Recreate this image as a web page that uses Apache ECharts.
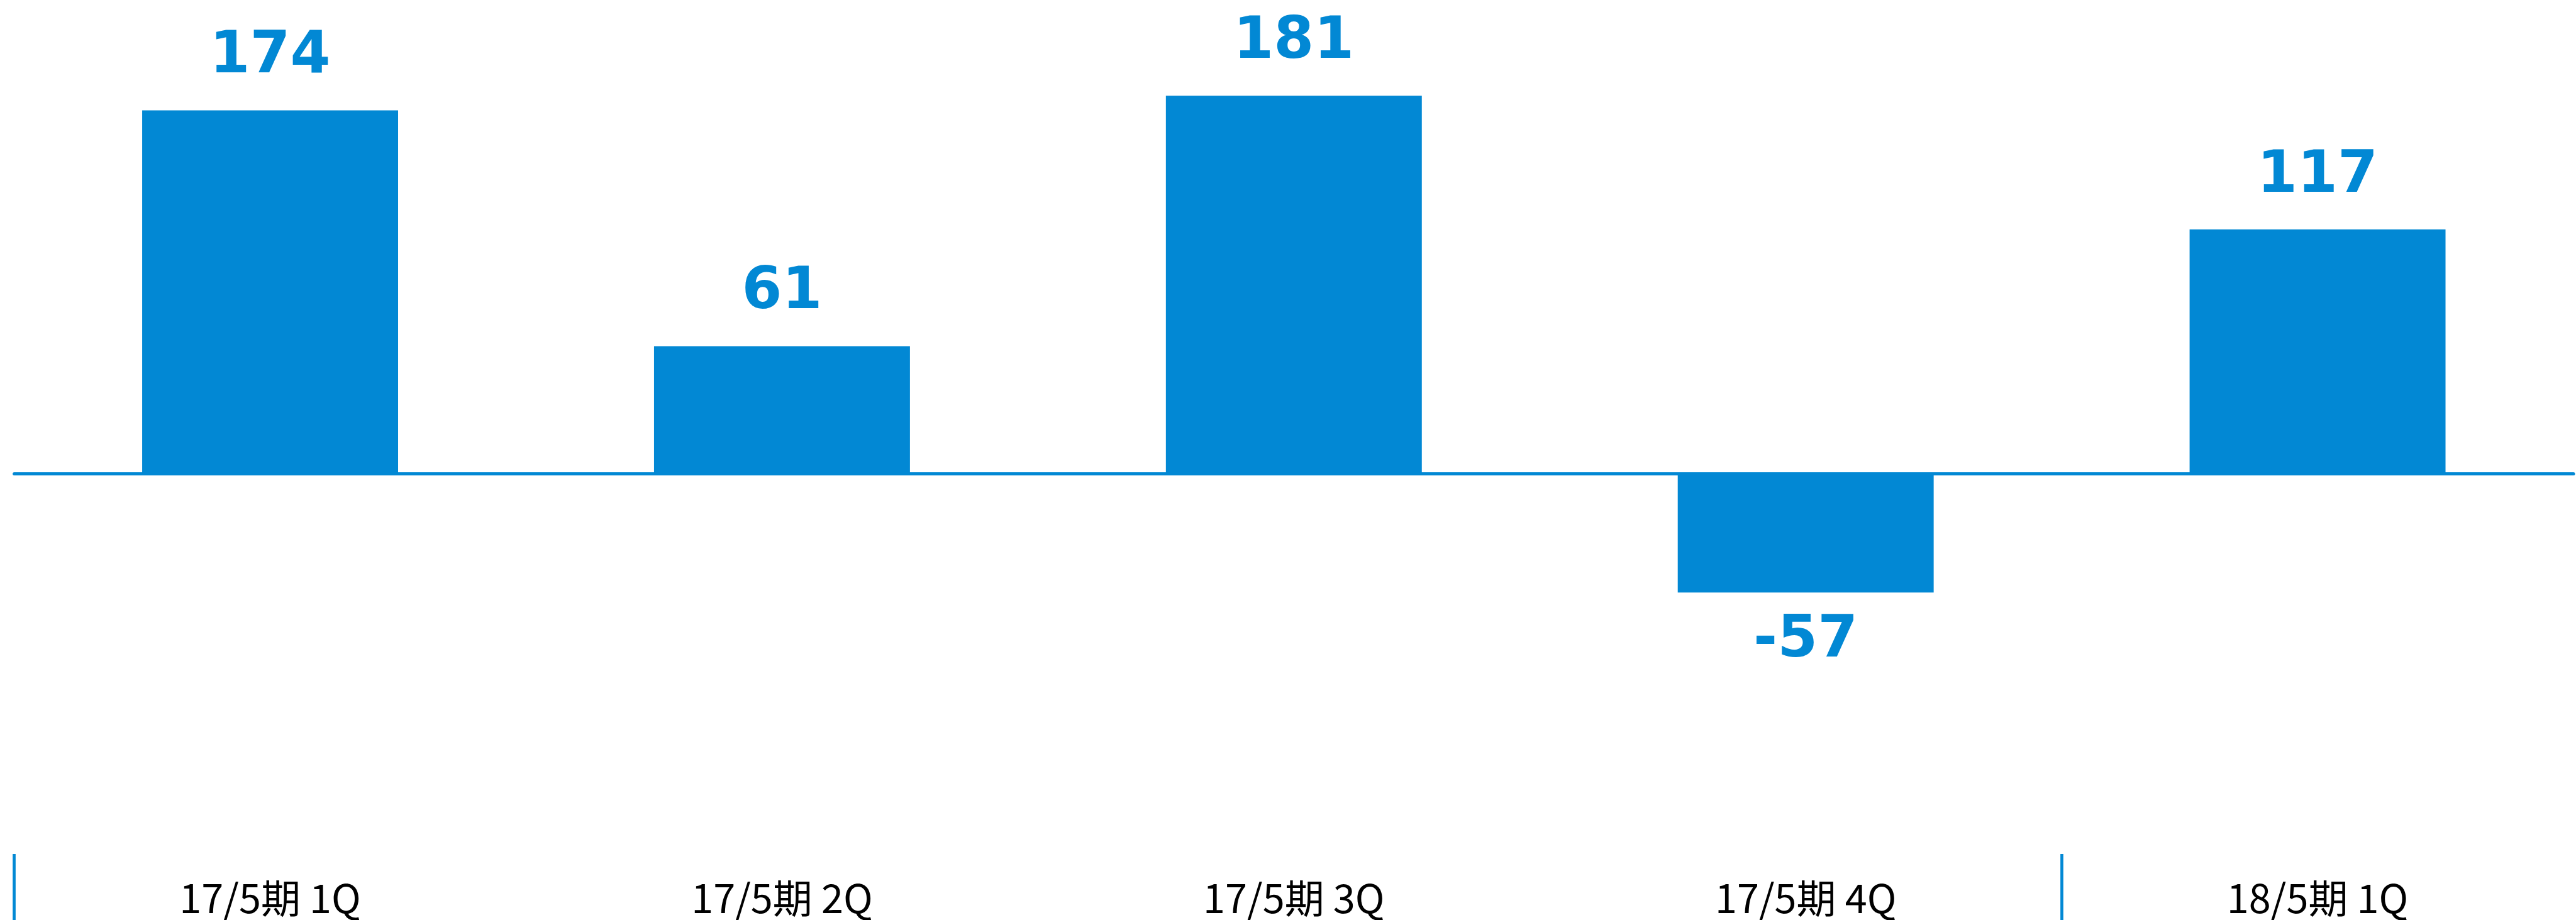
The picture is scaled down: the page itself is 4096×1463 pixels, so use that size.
<!DOCTYPE html>
<html><head><meta charset="utf-8">
<style>html,body{margin:0;padding:0;background:#fff}#c{width:4096px;height:1463px}</style>
<script src="https://cdn.jsdelivr.net/npm/echarts@6/dist/echarts.min.js"></script>
</head><body><div id="c"></div>
<script>
// ---- data ----
const categories = ['17/5期 1Q', '17/5期 2Q', '17/5期 3Q', '17/5期 4Q', '18/5期 1Q'];
const values = [174, 61, 181, -57, 117];
const groupStarts = [0, 4]; // category index where each fiscal-year group begins

// ---- chart ----
const BLUE = '#0288D4';
const chart = echarts.init(document.getElementById('c'), null, {renderer: 'canvas'});
const seriesData = values.map(v => v < 0
  ? {value: v, label: {position: 'bottom', distance: 32}}
  : v);
chart.setOption({
  animation: false,
  backgroundColor: '#fff',
  grid: [
    {left: 22.6, right: 4, top: 0, bottom: 105},
    {left: 22.6, right: 4, top: 1300, bottom: 105}
  ],
  xAxis: [
    {type: 'category', data: categories, gridIndex: 0, position: 'bottom',
     axisLine: {show: false, onZero: false}, axisTick: {show: false},
     axisLabel: {margin: 39, color: '#000', fontSize: 63, fontFamily: 'Noto Sans CJK JP', interval: 0}},
    {type: 'category', data: categories, gridIndex: 0, position: 'top',
     axisLine: {show: true, onZero: true, lineStyle: {color: BLUE, width: 5}},
     axisTick: {show: false}, axisLabel: {show: false}},
    {type: 'value', gridIndex: 1, min: 0, max: categories.length, position: 'bottom',
     axisLine: {show: false, onZero: false}, splitLine: {show: false}, axisLabel: {show: false},
     axisTick: {show: true, customValues: groupStarts, length: 105, lineStyle: {color: BLUE, width: 4.7}}}
  ],
  yAxis: [
    {type: 'value', gridIndex: 0, min: -182.3, max: 226.9, show: false},
    {type: 'value', gridIndex: 1, show: false}
  ],
  series: [{
    type: 'bar', xAxisIndex: 0, yAxisIndex: 0, barWidth: '50%',
    data: seriesData,
    itemStyle: {color: BLUE},
    label: {show: true, position: 'top', distance: 38, color: BLUE, fontSize: 92,
            fontWeight: 'bold', fontFamily: 'DejaVu Sans'}
  }]
});
</script>
</body></html>
